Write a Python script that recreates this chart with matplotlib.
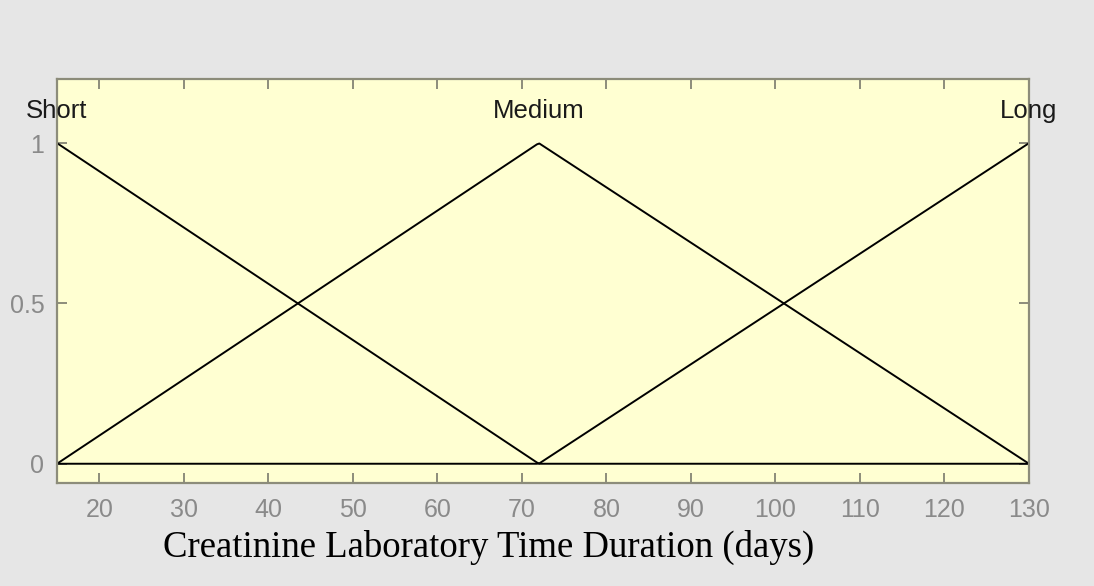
import numpy as np
import matplotlib.pyplot as plt

# membership functions (trimf points) for Creatinine lab time duration
x_min, x_max = 15, 130
mf_names = ["Short", "Medium", "Long"]
mf_x = [[15, 15, 72], [15, 72, 130], [72, 130, 130]]
mf_y = [[1, 1, 0], [0, 1, 0], [0, 1, 1]]
xticks = [20, 30, 40, 50, 60, 70, 80, 90, 100, 110, 120, 130]
yticks = [0, 0.5, 1]

fig = plt.figure(figsize=(10.94, 5.86), dpi=100, facecolor="#e6e6e6")
ax = fig.add_axes([0.0521, 0.1758, 0.8885, 0.6894])
ax.set_facecolor("#ffffd2")

grid = np.linspace(x_min, x_max, 400)
for name, px, py in zip(mf_names, mf_x, mf_y):
    mu = np.interp(grid, px, py)
    ax.plot(grid, mu, color="black", lw=1.4)
    peak = px[int(np.argmax(py))] if name != "Long" else px[1]
    ax.text(peak, 1.1, name, ha="center", va="center", fontsize=18.5,
            family="Liberation Sans", color="#1a1a1a")

ax.set_xlim(x_min, x_max)
ax.set_ylim(-0.06, 1.2)
ax.set_xticks(xticks)
ax.set_yticks(yticks)
ax.set_yticklabels(["0", "0.5", "1"])

for s in ax.spines.values():
    s.set_color("#8c8c7a")
    s.set_linewidth(1.6)
ax.tick_params(direction="in", length=7, width=1.4, color="#8c8c7a",
               labelcolor="#8a8a8a", labelsize=18, top=True, right=True, pad=11)
ax.tick_params(axis="y", pad=9)
for lab in ax.get_xticklabels() + ax.get_yticklabels():
    lab.set_family("Liberation Sans")

fig.text(0.447, 0.065, "Creatinine Laboratory Time Duration (days)",
         ha="center", va="center", fontsize=26.5, family="Liberation Serif",
         color="black")

fig.savefig("out.png", dpi=100, facecolor=fig.get_facecolor())
